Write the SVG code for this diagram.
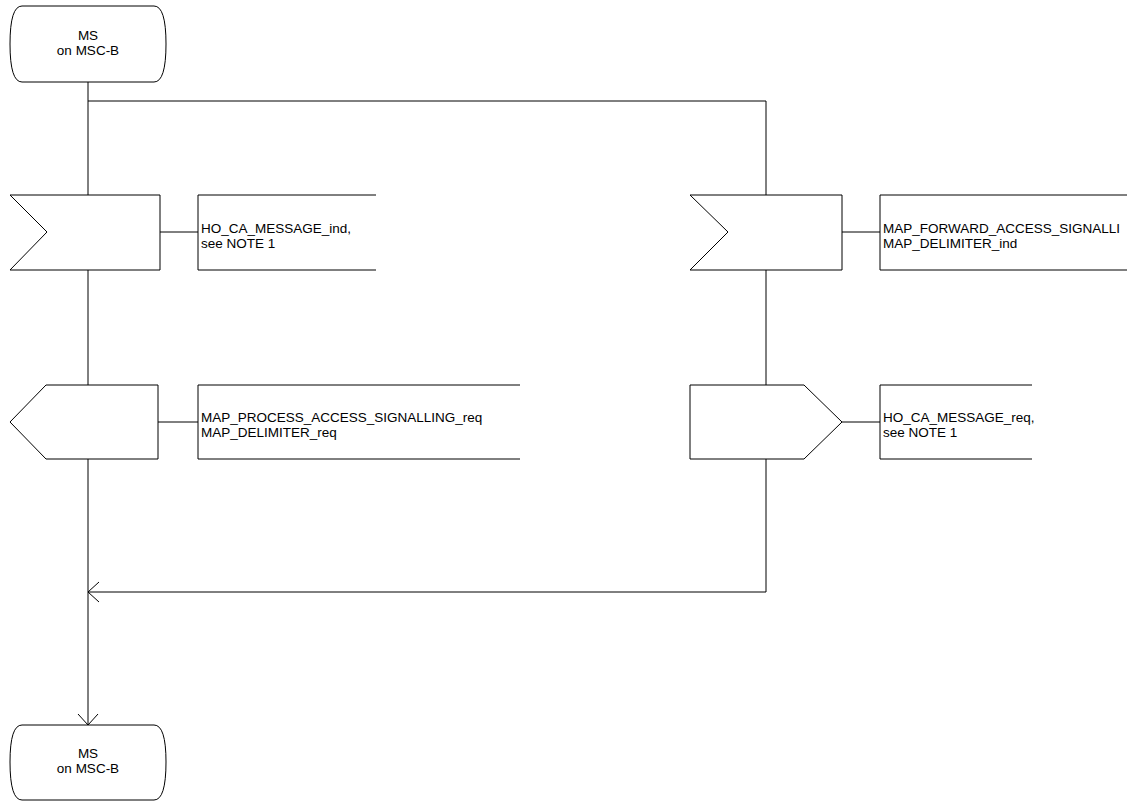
<svg xmlns="http://www.w3.org/2000/svg" width="1127" height="803" viewBox="0 0 1127 803">
<style>
.s{fill:#fff;stroke:#000;stroke-width:1}
.l{fill:none;stroke:#000;stroke-width:1}
text{font-family:"Liberation Sans",Arial,sans-serif;font-size:13.5px;fill:#000}
.c{text-anchor:middle}
</style>
<defs>
<marker id="arr" viewBox="0 0 22 22" refX="12" refY="11" markerWidth="22" markerHeight="22" markerUnits="userSpaceOnUse" orient="auto">
<path d="M1,1 L12,11 L1,21" fill="none" stroke="#000" stroke-width="1"/>
</marker>
</defs>
<g id="connectors">
<line class="l" x1="88" y1="82" x2="88" y2="195"/>
<polyline class="l" points="88,101 766,101 766,195"/>
<line class="l" x1="88" y1="270" x2="88" y2="385"/>
<line class="l" x1="766" y1="270" x2="766" y2="385"/>
<line class="l" x1="88" y1="459" x2="88" y2="725" marker-end="url(#arr)"/>
<polyline class="l" points="766,459 766,592 88,592" marker-end="url(#arr)"/>
<line class="l" x1="160" y1="232" x2="198" y2="232"/>
<line class="l" x1="158" y1="422" x2="198" y2="422"/>
<line class="l" x1="842" y1="232" x2="880" y2="232"/>
<line class="l" x1="842" y1="422" x2="880" y2="422"/>
</g>
<g id="start">
<path class="s" d="M22,6 H154 Q166,6 166,44 Q166,82 154,82 H22 Q10,82 10,44 Q10,6 22,6 Z"/>
<text class="c" x="88" y="40">MS</text>
<text class="c" x="88" y="55">on MSC-B</text>
</g>
<g id="in1">
<polygon class="s" points="10,195 160,195 160,270 10,270 47,232"/>
</g>
<g id="c1">
<path class="l" d="M376,195 H198 V270 H376"/>
<text x="201" y="233">HO_CA_MESSAGE_ind,</text>
<text x="201" y="248">see NOTE 1</text>
</g>
<g id="out1">
<polygon class="s" points="10,422 46,385 158,385 158,459 46,459"/>
</g>
<g id="c2">
<path class="l" d="M520,385 H198 V459 H520"/>
<text x="201" y="422">MAP_PROCESS_ACCESS_SIGNALLING_req</text>
<text x="201" y="437">MAP_DELIMITER_req</text>
</g>
<g id="in2">
<polygon class="s" points="690,195 842,195 842,270 690,270 728,232"/>
</g>
<g id="c3">
<path class="l" d="M1127,195 H880 V270 H1127"/>
<text x="883" y="233">MAP_FORWARD_ACCESS_SIGNALLI</text>
<text x="883" y="248">MAP_DELIMITER_ind</text>
</g>
<g id="out2">
<polygon class="s" points="690,385 804,385 842,422 804,459 690,459"/>
</g>
<g id="c4">
<path class="l" d="M1032,385 H880 V459 H1032"/>
<text x="883" y="422">HO_CA_MESSAGE_req,</text>
<text x="883" y="437">see NOTE 1</text>
</g>
<g id="end">
<path class="s" d="M22,725 H154 Q166,725 166,762 Q166,800 154,800 H22 Q10,800 10,762 Q10,725 22,725 Z"/>
<text class="c" x="88" y="758">MS</text>
<text class="c" x="88" y="773">on MSC-B</text>
</g>
</svg>
